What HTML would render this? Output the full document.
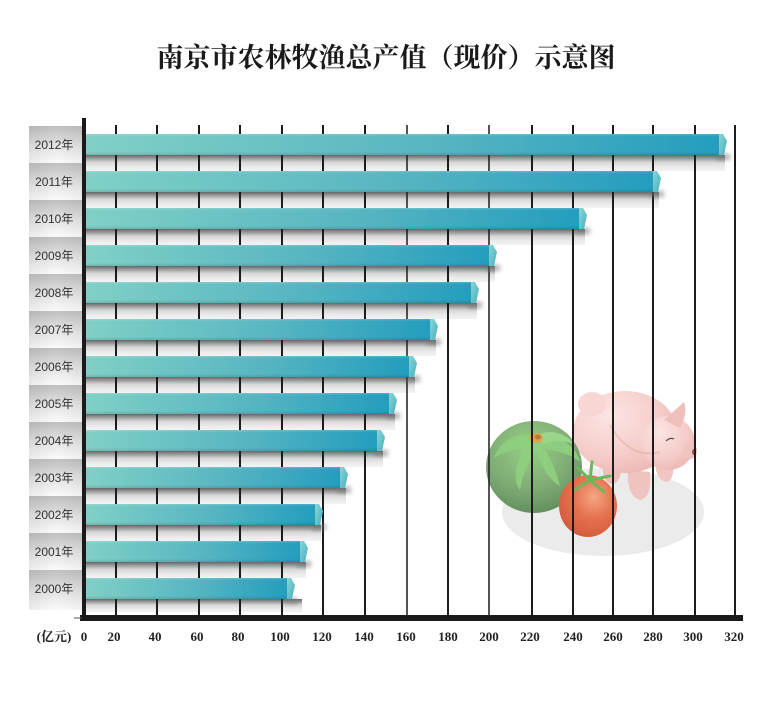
<!DOCTYPE html>
<html><head><meta charset="utf-8">
<style>
html,body{margin:0;padding:0;background:#fff;}
svg{display:block;}
.t{font-family:"Liberation Serif","Noto Serif CJK SC",serif;font-weight:bold;}
.y{font-family:"Liberation Sans","Noto Sans CJK SC",sans-serif;font-size:12px;fill:#333;}
.x{font-family:"Liberation Serif","Noto Serif CJK SC",serif;font-weight:bold;font-size:13px;fill:#222;}
</style></head>
<body>
<svg width="760" height="702" viewBox="0 0 760 702" xmlns="http://www.w3.org/2000/svg">
<defs>
  <linearGradient id="bar" x1="0" y1="0" x2="1" y2="0">
    <stop offset="0" stop-color="#80d0c6"/>
    <stop offset="0.55" stop-color="#57b5c1"/>
    <stop offset="1" stop-color="#249dbe"/>
  </linearGradient>
  <linearGradient id="barv" x1="0" y1="0" x2="0" y2="1">
    <stop offset="0" stop-color="#ffffff" stop-opacity="0.18"/>
    <stop offset="0.12" stop-color="#ffffff" stop-opacity="0"/>
    <stop offset="0.85" stop-color="#000000" stop-opacity="0"/>
    <stop offset="1" stop-color="#000000" stop-opacity="0.12"/>
  </linearGradient>
  <linearGradient id="cap" x1="0" y1="0" x2="1" y2="1">
    <stop offset="0" stop-color="#8ad6d3"/>
    <stop offset="1" stop-color="#46afc2"/>
  </linearGradient>
  <linearGradient id="gap" x1="0" y1="0" x2="0" y2="1">
    <stop offset="0" stop-color="#666"/>
    <stop offset="0.15" stop-color="#8c8c8c"/>
    <stop offset="0.45" stop-color="#d6d6d6"/>
    <stop offset="0.75" stop-color="#ebebeb"/>
    <stop offset="1" stop-color="#f3f3f3"/>
  </linearGradient>
  <linearGradient id="lab" x1="0" y1="0" x2="0" y2="1">
    <stop offset="0" stop-color="#c0c0c0"/>
    <stop offset="0.5" stop-color="#e2e2e2"/>
    <stop offset="1" stop-color="#fbfbfb"/>
  </linearGradient>
  <linearGradient id="labh" x1="0" y1="0" x2="1" y2="0">
    <stop offset="0" stop-color="#000" stop-opacity="0.06"/>
    <stop offset="0.5" stop-color="#000" stop-opacity="0"/>
    <stop offset="1" stop-color="#000" stop-opacity="0.04"/>
  </linearGradient>
  <radialGradient id="pump" cx="0.45" cy="0.3" r="0.75">
    <stop offset="0" stop-color="#97cf86"/>
    <stop offset="0.6" stop-color="#7eab74"/>
    <stop offset="1" stop-color="#5e8a5b"/>
  </radialGradient>
  <radialGradient id="tom" cx="0.6" cy="0.35" r="0.7">
    <stop offset="0" stop-color="#f4a683"/>
    <stop offset="0.5" stop-color="#e5714f"/>
    <stop offset="1" stop-color="#d35a3d"/>
  </radialGradient>
  <radialGradient id="pig" cx="0.35" cy="0.3" r="0.8">
    <stop offset="0" stop-color="#fbe5e3"/>
    <stop offset="0.6" stop-color="#f5cdca"/>
    <stop offset="1" stop-color="#eab4b1"/>
  </radialGradient>
  <filter id="blur" x="-50%" y="-50%" width="200%" height="200%"><feGaussianBlur stdDeviation="2.5"/></filter>
</defs>

<rect width="760" height="702" fill="#fff"/>

<!-- title -->
<text class="t" x="386" y="67" font-size="27" text-anchor="middle" fill="#1a1a1a">南京市农林牧渔总产值（现价）示意图</text>

<!-- label boxes -->
<g>
  <rect x="29" y="126" width="53" height="37" fill="url(#lab)"/><rect x="29" y="126" width="53" height="37" fill="url(#labh)"/>
  <rect x="29" y="163" width="53" height="37" fill="url(#lab)"/><rect x="29" y="163" width="53" height="37" fill="url(#labh)"/>
  <rect x="29" y="200" width="53" height="37" fill="url(#lab)"/><rect x="29" y="200" width="53" height="37" fill="url(#labh)"/>
  <rect x="29" y="237" width="53" height="37" fill="url(#lab)"/><rect x="29" y="237" width="53" height="37" fill="url(#labh)"/>
  <rect x="29" y="274" width="53" height="37" fill="url(#lab)"/><rect x="29" y="274" width="53" height="37" fill="url(#labh)"/>
  <rect x="29" y="311" width="53" height="37" fill="url(#lab)"/><rect x="29" y="311" width="53" height="37" fill="url(#labh)"/>
  <rect x="29" y="348" width="53" height="37" fill="url(#lab)"/><rect x="29" y="348" width="53" height="37" fill="url(#labh)"/>
  <rect x="29" y="385" width="53" height="37" fill="url(#lab)"/><rect x="29" y="385" width="53" height="37" fill="url(#labh)"/>
  <rect x="29" y="422" width="53" height="37" fill="url(#lab)"/><rect x="29" y="422" width="53" height="37" fill="url(#labh)"/>
  <rect x="29" y="459" width="53" height="37" fill="url(#lab)"/><rect x="29" y="459" width="53" height="37" fill="url(#labh)"/>
  <rect x="29" y="496" width="53" height="37" fill="url(#lab)"/><rect x="29" y="496" width="53" height="37" fill="url(#labh)"/>
  <rect x="29" y="533" width="53" height="37" fill="url(#lab)"/><rect x="29" y="533" width="53" height="37" fill="url(#labh)"/>
  <rect x="29" y="570" width="53" height="40" fill="url(#lab)"/><rect x="29" y="570" width="53" height="40" fill="url(#labh)"/>
</g>
<g class="y" text-anchor="middle">
  <text x="54" y="149">2012年</text>
  <text x="54" y="186">2011年</text>
  <text x="54" y="223">2010年</text>
  <text x="54" y="260">2009年</text>
  <text x="54" y="297">2008年</text>
  <text x="54" y="334">2007年</text>
  <text x="54" y="371">2006年</text>
  <text x="54" y="408">2005年</text>
  <text x="54" y="445">2004年</text>
  <text x="54" y="482">2003年</text>
  <text x="54" y="519">2002年</text>
  <text x="54" y="556">2001年</text>
  <text x="54" y="593">2000年</text>
</g>

<!-- gap shadows -->
<g>
  <rect x="86" y="155" width="639" height="16" fill="url(#gap)"/>
  <rect x="86" y="192" width="573" height="16" fill="url(#gap)"/>
  <rect x="86" y="229" width="499" height="16" fill="url(#gap)"/>
  <rect x="86" y="266" width="409" height="16" fill="url(#gap)"/>
  <rect x="86" y="303" width="391" height="16" fill="url(#gap)"/>
  <rect x="86" y="340" width="350" height="16" fill="url(#gap)"/>
  <rect x="86" y="377" width="329" height="16" fill="url(#gap)"/>
  <rect x="86" y="414" width="309" height="16" fill="url(#gap)"/>
  <rect x="86" y="451" width="297" height="16" fill="url(#gap)"/>
  <rect x="86" y="488" width="260" height="16" fill="url(#gap)"/>
  <rect x="86" y="525" width="235" height="16" fill="url(#gap)"/>
  <rect x="86" y="562" width="220" height="16" fill="url(#gap)"/>
  <rect x="86" y="599" width="216" height="13" fill="url(#gap)"/>
</g>

<!-- illustration -->
<g>
  <ellipse cx="603" cy="512" rx="101" ry="44" fill="#ebebeb"/>
  <!-- pig -->
  <g>
    <ellipse cx="612" cy="470" rx="9" ry="14" fill="#eebdb9"/>
    <path d="M628 470 Q626 495 640 500 Q652 498 650 472 Z" fill="#efc3bf"/>
    <path d="M655 462 Q656 482 668 482 Q676 476 672 458 Z" fill="#f0c6c2"/>
    <ellipse cx="625" cy="432" rx="52" ry="41" fill="url(#pig)"/>
    <ellipse cx="592" cy="404" rx="14" ry="12" fill="#f7d6d3"/>
    <ellipse cx="668" cy="443" rx="27" ry="27" fill="url(#pig)"/>
    <path d="M664 420 L684 402 Q688 414 680 428 Z" fill="#efbfbb"/>
    <ellipse cx="690" cy="451" rx="7" ry="8" fill="#f0c3bf"/>
    <ellipse cx="694" cy="452" rx="2" ry="3" fill="#8a5a5a"/>
    <path d="M666 441 q4 -4 8 -2" stroke="#5a4a4a" stroke-width="1.2" fill="none"/>
    <path d="M610 425 Q630 460 660 452" stroke="#e7b0ac" stroke-width="2" fill="none" opacity="0.6"/>
  </g>
  <!-- pumpkin -->
  <g>
    <ellipse cx="534" cy="467" rx="48" ry="46" fill="url(#pump)"/>
    <path d="M536 437 C520 430 500 440 494 458 C510 448 520 450 528 446 C515 460 512 480 520 490 C524 470 530 458 536 450 C540 462 548 480 560 486 C556 468 548 455 544 448 C556 452 568 452 580 462 C576 444 556 434 536 437 Z" fill="#8fcf7f" opacity="0.9"/>
    <path d="M536 437 C546 428 566 432 574 444 C562 440 552 440 544 444 Z" fill="#9ad68a"/>
    <ellipse cx="536" cy="438" rx="7" ry="5" fill="#e0a448"/>
    <ellipse cx="538" cy="437" rx="3" ry="2.5" fill="#b77a3a"/>
  </g>
  <!-- tomato -->
  <g>
    <ellipse cx="588" cy="506" rx="29" ry="31" fill="url(#tom)"/>
    <path d="M590 480 L578 468 M590 480 L575 490 M590 480 L604 492 M590 480 L610 476 M590 480 L592 462" stroke="#6ab85a" stroke-width="3" stroke-linecap="round" fill="none"/>
  </g>
</g>

<!-- gridlines -->
<g stroke="#1c1c1c" stroke-width="2">
  <line x1="116" y1="125" x2="116" y2="616"/>
  <line x1="157" y1="125" x2="157" y2="616"/>
  <line x1="199" y1="125" x2="199" y2="616"/>
  <line x1="240" y1="125" x2="240" y2="616"/>
  <line x1="282" y1="125" x2="282" y2="616"/>
  <line x1="323" y1="125" x2="323" y2="616"/>
  <line x1="365" y1="125" x2="365" y2="616"/>
  <line x1="407" y1="125" x2="407" y2="616" stroke-width="1.5"/>
  <line x1="448" y1="125" x2="448" y2="616"/>
  <line x1="489" y1="125" x2="489" y2="616" stroke-width="1.5"/>
  <line x1="532" y1="125" x2="532" y2="616"/>
  <line x1="573" y1="125" x2="573" y2="616"/>
  <line x1="613" y1="125" x2="613" y2="616"/>
  <line x1="653" y1="125" x2="653" y2="616"/>
  <line x1="695" y1="125" x2="695" y2="616"/>
  <line x1="735" y1="125" x2="735" y2="616"/>
</g>

<!-- bars -->
<g id="bars">
  <!-- generic: body x 86..tip-8, cap polygon -->
  <g>
    <rect x="716" y="154" width="14" height="6" fill="#777" filter="url(#blur)" opacity="0.6"/>
    <rect x="86" y="134" width="633" height="21" fill="url(#bar)"/><rect x="86" y="134" width="633" height="21" fill="url(#barv)"/>
    <polygon points="719,134 723,134 727,141 724,155 719,155" fill="url(#cap)"/>
  </g>
  <g>
    <rect x="650" y="191" width="14" height="6" fill="#777" filter="url(#blur)" opacity="0.6"/>
    <rect x="86" y="171" width="567" height="21" fill="url(#bar)"/><rect x="86" y="171" width="567" height="21" fill="url(#barv)"/>
    <polygon points="653,171 657,171 661,178 658,192 653,192" fill="url(#cap)"/>
  </g>
  <g>
    <rect x="576" y="228" width="14" height="6" fill="#777" filter="url(#blur)" opacity="0.6"/>
    <rect x="86" y="208" width="493" height="21" fill="url(#bar)"/><rect x="86" y="208" width="493" height="21" fill="url(#barv)"/>
    <polygon points="579,208 583,208 587,215 584,229 579,229" fill="url(#cap)"/>
  </g>
  <g>
    <rect x="486" y="265" width="14" height="6" fill="#777" filter="url(#blur)" opacity="0.6"/>
    <rect x="86" y="245" width="403" height="21" fill="url(#bar)"/><rect x="86" y="245" width="403" height="21" fill="url(#barv)"/>
    <polygon points="489,245 493,245 497,252 494,266 489,266" fill="url(#cap)"/>
  </g>
  <g>
    <rect x="468" y="302" width="14" height="6" fill="#777" filter="url(#blur)" opacity="0.6"/>
    <rect x="86" y="282" width="385" height="21" fill="url(#bar)"/><rect x="86" y="282" width="385" height="21" fill="url(#barv)"/>
    <polygon points="471,282 475,282 479,289 476,303 471,303" fill="url(#cap)"/>
  </g>
  <g>
    <rect x="427" y="339" width="14" height="6" fill="#777" filter="url(#blur)" opacity="0.6"/>
    <rect x="86" y="319" width="344" height="21" fill="url(#bar)"/><rect x="86" y="319" width="344" height="21" fill="url(#barv)"/>
    <polygon points="430,319 434,319 438,326 435,340 430,340" fill="url(#cap)"/>
  </g>
  <g>
    <rect x="406" y="376" width="14" height="6" fill="#777" filter="url(#blur)" opacity="0.6"/>
    <rect x="86" y="356" width="323" height="21" fill="url(#bar)"/><rect x="86" y="356" width="323" height="21" fill="url(#barv)"/>
    <polygon points="409,356 413,356 417,363 414,377 409,377" fill="url(#cap)"/>
  </g>
  <g>
    <rect x="386" y="413" width="14" height="6" fill="#777" filter="url(#blur)" opacity="0.6"/>
    <rect x="86" y="393" width="303" height="21" fill="url(#bar)"/><rect x="86" y="393" width="303" height="21" fill="url(#barv)"/>
    <polygon points="389,393 393,393 397,400 394,414 389,414" fill="url(#cap)"/>
  </g>
  <g>
    <rect x="374" y="450" width="14" height="6" fill="#777" filter="url(#blur)" opacity="0.6"/>
    <rect x="86" y="430" width="291" height="21" fill="url(#bar)"/><rect x="86" y="430" width="291" height="21" fill="url(#barv)"/>
    <polygon points="377,430 381,430 385,437 382,451 377,451" fill="url(#cap)"/>
  </g>
  <g>
    <rect x="337" y="487" width="14" height="6" fill="#777" filter="url(#blur)" opacity="0.6"/>
    <rect x="86" y="467" width="254" height="21" fill="url(#bar)"/><rect x="86" y="467" width="254" height="21" fill="url(#barv)"/>
    <polygon points="340,467 344,467 348,474 345,488 340,488" fill="url(#cap)"/>
  </g>
  <g>
    <rect x="312" y="524" width="14" height="6" fill="#777" filter="url(#blur)" opacity="0.6"/>
    <rect x="86" y="504" width="229" height="21" fill="url(#bar)"/><rect x="86" y="504" width="229" height="21" fill="url(#barv)"/>
    <polygon points="315,504 319,504 323,511 320,525 315,525" fill="url(#cap)"/>
  </g>
  <g>
    <rect x="297" y="561" width="14" height="6" fill="#777" filter="url(#blur)" opacity="0.6"/>
    <rect x="86" y="541" width="214" height="21" fill="url(#bar)"/><rect x="86" y="541" width="214" height="21" fill="url(#barv)"/>
    <polygon points="300,541 304,541 308,548 305,562 300,562" fill="url(#cap)"/>
  </g>
  <g>
    <rect x="284" y="598" width="14" height="6" fill="#777" filter="url(#blur)" opacity="0.6"/>
    <rect x="86" y="578" width="201" height="21" fill="url(#bar)"/><rect x="86" y="578" width="201" height="21" fill="url(#barv)"/>
    <polygon points="287,578 291,578 295,585 292,599 287,599" fill="url(#cap)"/>
  </g>
</g>

<!-- axes -->
<rect x="82" y="118" width="4" height="503" fill="#1a1a1a"/>
<rect x="80" y="615" width="663" height="6" fill="#1a1a1a"/>
<line x1="74" y1="618" x2="82" y2="618" stroke="#555" stroke-width="1"/>

<!-- x labels -->
<g class="x" text-anchor="middle">
  <text x="54" y="641">(亿元)</text>
  <text x="84" y="641">0</text>
  <text x="114" y="641">20</text>
  <text x="155" y="641">40</text>
  <text x="197" y="641">60</text>
  <text x="238" y="641">80</text>
  <text x="280" y="641">100</text>
  <text x="322" y="641">120</text>
  <text x="364" y="641">140</text>
  <text x="406" y="641">160</text>
  <text x="448" y="641">180</text>
  <text x="489" y="641">200</text>
  <text x="530" y="641">220</text>
  <text x="573" y="641">240</text>
  <text x="613" y="641">260</text>
  <text x="653" y="641">280</text>
  <text x="693" y="641">300</text>
  <text x="734" y="641">320</text>
</g>
</svg>
</body></html>
